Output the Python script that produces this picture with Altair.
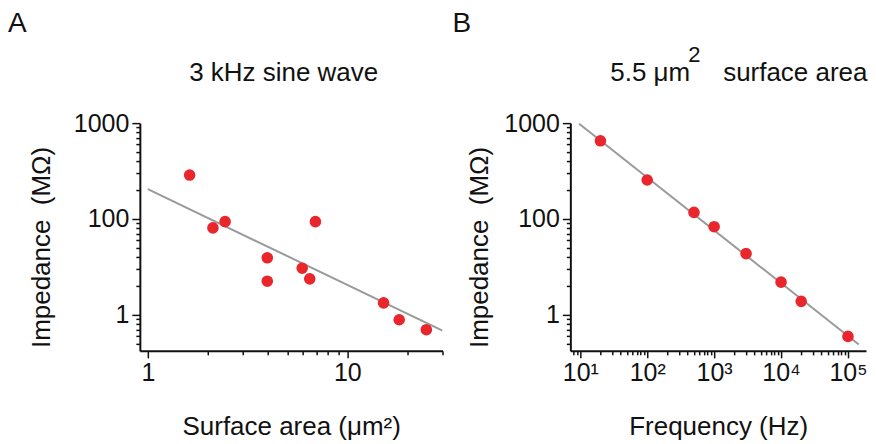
import altair as alt
import pandas as pd

# ---------------- data ----------------
# Panel A: impedance vs surface area (3 kHz sine wave)
area_um2 = [1.62, 2.12, 2.44, 3.97, 3.97, 5.94, 6.48, 6.92, 15.2, 18.2, 24.9]
imp_a = [287, 80.6, 93.7, 39.3, 22.4, 30.6, 23.7, 93.7, 13.3, 8.87, 6.98]
fit_a_x = [1.0, 30.0]
fit_a_y = [205, 6.83]

# Panel B: impedance vs frequency (5.5 um2 surface area)
freq_hz = [20, 100, 500, 1000, 3000, 10000, 20000, 100000]
imp_b = [654, 255, 117, 83, 43.5, 21.9, 13.8, 5.94]
fit_b_x = [9.6, 145000]
fit_b_y = [984, 4.9]

y_major = [10, 100, 1000]
y_major_labels = ["1", "100", "1000"]
xa_major = [1, 10]
xa_major_labels = ["1", "10"]
xb_major = [10, 100, 1000, 10000, 100000]
xb_major_labels = ["10¹", "10²", "10³", "10⁴", "10⁵"]

panel_letters = ["A", "B"]
title_a = "3 kHz sine wave"
title_b_parts = ["5.5 μm", "2", "surface area"]
x_titles = ["Surface area (μm²)", "Frequency (Hz)"]
y_title = "Impedance \u00a0(MΩ)"

FONT = "Liberation Sans"
RED = "#e8262c"
GRAY = "#9a9a9a"
INK = "#111111"
H = 228


def minor_ticks(lo_exp, hi_exp, lo, hi):
    out = []
    for e in range(lo_exp, hi_exp + 1):
        for m in range(1, 10):
            v = m * 10 ** e
            if lo <= v <= hi:
                out.append(v)
    return out


def label_expr(values, labels):
    expr = "''"
    for v, l in zip(values, labels):
        expr = f"datum.value == {v} ? '{l}' : " + expr
    return expr


def size_expr(values):
    return " || ".join(f"datum.value == {v}" for v in values)


Y_DOMAIN = [4.2, 1000]
y_vals = minor_ticks(0, 3, *Y_DOMAIN)
y_scale = alt.Scale(type="log", domain=Y_DOMAIN, nice=False)


def y_axis(title_pad):
    return alt.Axis(
        values=y_vals,
        labelExpr=label_expr(y_major, y_major_labels),
        labelOverlap=False,
        labelPadding=3,
        tickSize={"condition": {"test": size_expr(y_major), "value": 8}, "value": 4},
        title=y_title,
        titlePadding=title_pad,
        titleY=H / 2 + 10,
        grid=False,
    )


def x_axis(vals, majors, labels, title):
    return alt.Axis(
        values=vals,
        labelExpr=label_expr(majors, labels),
        labelOverlap=False,
        tickSize={"condition": {"test": size_expr(majors), "value": 7}, "value": 4},
        title=title,
        grid=False,
        labelPadding=3,
        titlePadding=28,
    )


def text_layer(txt, size, align, x, y):
    return alt.Chart(pd.DataFrame({"t": [txt]})).mark_text(
        fontSize=size, font=FONT, align=align, baseline="alphabetic", color=INK
    ).encode(text="t:N", x=alt.value(x), y=alt.value(y))


def panel(df, fit, xscale, xaxis, ytitle_pad, width, letter, letter_x, extras):
    line = alt.Chart(fit).mark_line(color=GRAY, strokeWidth=2, clip=True).encode(
        x=alt.X("x:Q", scale=xscale, axis=xaxis),
        y=alt.Y("y:Q", scale=y_scale, axis=y_axis(ytitle_pad)),
    )
    pts = alt.Chart(df).mark_circle(color=RED, size=135, opacity=1).encode(
        x="x:Q", y="y:Q"
    )
    let = text_layer(letter, 28, "left", letter_x, -91)
    return alt.layer(line, pts, let, *extras).properties(width=width, height=H)


# ---------------- panel A ----------------
XA_DOMAIN = [0.912, 30]
xa_vals = minor_ticks(0, 1, *XA_DOMAIN)
panel_a = panel(
    pd.DataFrame({"x": area_um2, "y": imp_a}),
    pd.DataFrame({"x": fit_a_x, "y": fit_a_y}),
    alt.Scale(type="log", domain=XA_DOMAIN, nice=False),
    x_axis(xa_vals, xa_major, xa_major_labels, x_titles[0]),
    19, 303, panel_letters[0], -132,
    [text_layer(title_a, 26, "center", 144, -42)],
)

# ---------------- panel B ----------------
XB_DOMAIN = [7.1, 186000]
xb_vals = minor_ticks(0, 5, *XB_DOMAIN)
panel_b = panel(
    pd.DataFrame({"x": freq_hz, "y": imp_b}),
    pd.DataFrame({"x": fit_b_x, "y": fit_b_y}),
    alt.Scale(type="log", domain=XB_DOMAIN, nice=False),
    x_axis(xb_vals, xb_major, xb_major_labels, x_titles[1]),
    11, 296, panel_letters[1], -118,
    [
        text_layer(title_b_parts[0], 26, "right", 120, -42),
        text_layer(title_b_parts[1], 22, "left", 118, -61),
        text_layer(title_b_parts[2], 26, "left", 153, -42),
    ],
)

chart = (
    alt.hconcat(panel_a, panel_b, spacing=9)
    .properties(padding={"left": 0, "top": 2, "right": 0, "bottom": 0})
    .configure_view(stroke=None)
    .configure_axis(
        domainColor=INK,
        domainWidth=2,
        tickColor=INK,
        tickWidth=1.5,
        labelFont=FONT,
        labelFontSize=25,
        labelColor=INK,
        titleFont=FONT,
        titleFontSize=26,
        titleFontWeight="normal",
        titleColor=INK,
    )
)

chart.save("out.html", embed_options={"renderer": "svg", "actions": False})
